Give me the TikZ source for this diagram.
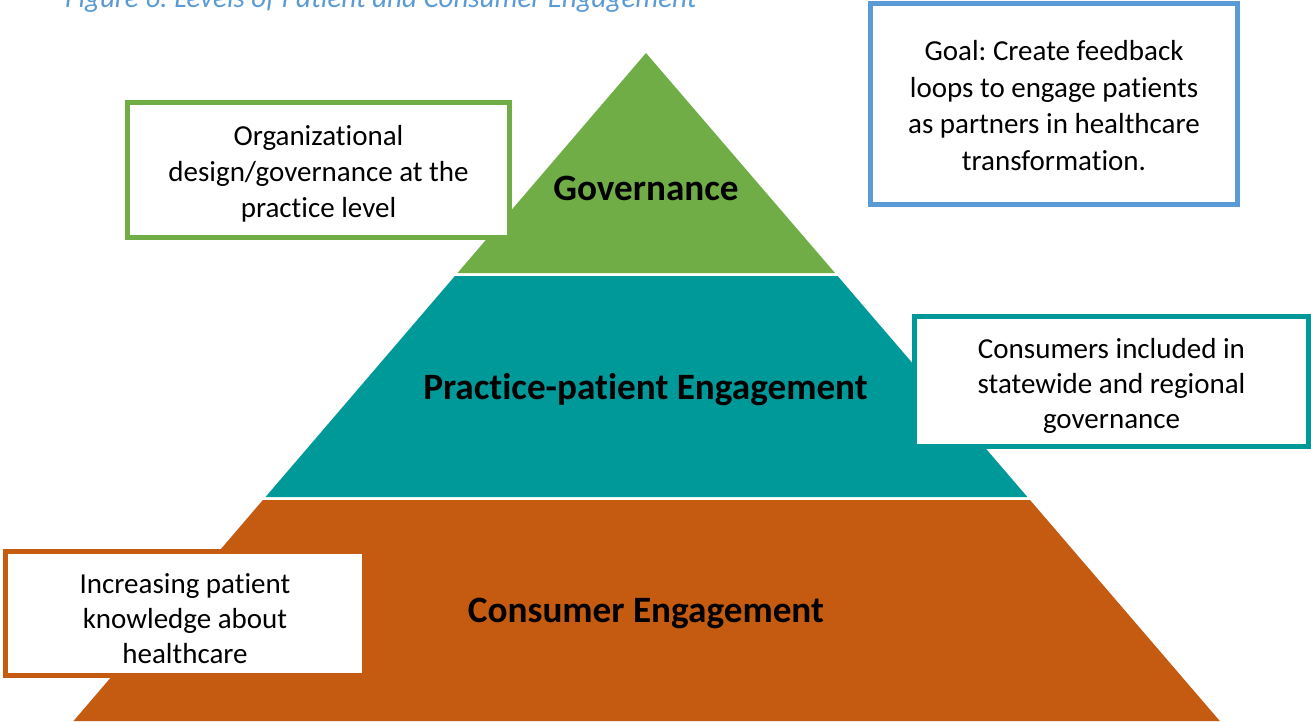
\documentclass[tikz,border=0pt]{standalone}
\usepackage{fontspec}
\setmainfont{Carlito}[Ligatures=NoCommon]
\definecolor{pgreen}{HTML}{70AD47}
\definecolor{pteal}{HTML}{009999}
\definecolor{porange}{HTML}{C55A11}
\definecolor{pblue}{HTML}{5B9BD5}
\begin{document}
\frenchspacing
\begin{tikzpicture}[x=1pt,y=-1pt,
  boxframe/.style={draw, line width=5pt, fill=white, inner sep=0pt},
  boxtext/.style={inner sep=0pt, align=center},
  tierlabel/.style={font=\fontsize{37.2}{44}\selectfont\bfseries, inner sep=0pt},
  caption/.style={text=pblue, font=\fontsize{29}{35}\selectfont\itshape, inner sep=0pt}]
\useasboundingbox (0,0) rectangle (1311,721);
% pyramid tiers
\fill[pgreen] (646,53) -- (835,273) -- (457.5,273) -- cycle;
\fill[pteal] (454.9,276) -- (837.6,276) -- (1027.4,497) -- (265.5,497) -- cycle;
\fill[porange] (262.9,500) -- (1030,500) -- (1219.8,721) -- (73.5,721) -- cycle;
% tier labels
\node[tierlabel] (gov) at (646,188.5) {Governance};
\node[tierlabel] (prac) at (645.5,390) {Practice-patient Engagement};
\node[tierlabel] (cons) at (646,613) {Consumer Engagement};
% caption
\node[caption, anchor=base west] (cap) at (65,7.5) {Figure 6: Levels of Patient and Consumer Engagement};
% boxes
\node[boxframe, draw=pgreen, minimum width=382pt, minimum height=135pt] (gbox) at (318.5,170) {};
\node[boxtext, font=\fontsize{29}{36}\selectfont] (gtext) at ([yshift=-4pt]gbox.center)
  {Organizational\\design/governance at the\\practice level};
\node[boxframe, draw=pblue, minimum width=367pt, minimum height=201pt] (bbox) at (1054,104) {};
\node[boxtext, font=\fontsize{29}{36.7}\selectfont] (btext) at ([yshift=-1.5pt]bbox.center)
  {Goal: Create feedback\\loops to engage patients\\as partners in healthcare\\transformation.};
\node[boxframe, draw=pteal, minimum width=394pt, minimum height=130pt] (tbox) at (1111.5,381.5) {};
\node[boxtext, font=\fontsize{29}{35}\selectfont] (ttext) at ([yshift=-4.5pt]tbox.center)
  {Consumers included in\\statewide and regional\\governance};
\node[boxframe, draw=porange, minimum width=359pt, minimum height=124pt] (obox) at (185,613.5) {};
\node[boxtext, font=\fontsize{29}{35}\selectfont] (otext) at ([yshift=-5.5pt]obox.center)
  {Increasing patient\\knowledge about\\healthcare};
\end{tikzpicture}
\end{document}
